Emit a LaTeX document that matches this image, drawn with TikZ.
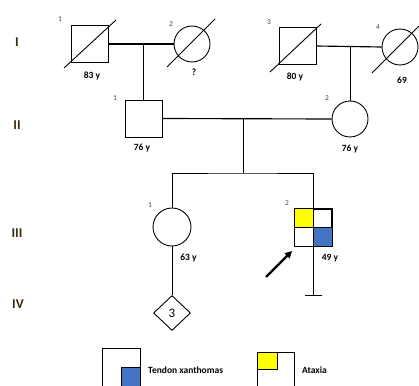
\documentclass[tikz,border=0pt]{standalone}
\usepackage{fontspec}
\setmainfont{Carlito}
\usetikzlibrary{shapes.geometric,arrows.meta}
\definecolor{lgblue}{HTML}{4472C4}
\definecolor{lgyellow}{HTML}{FFFF00}
\definecolor{numgray}{HTML}{444444}
\definecolor{genc}{HTML}{3A2A10}
\begin{document}
\begin{tikzpicture}[x=1pt,y=-1pt,
  male/.style={draw,line width=0.9pt,rectangle,minimum size=37pt,inner sep=0pt},
  female/.style={draw,line width=0.9pt,circle,minimum size=36pt,inner sep=0pt},
  indnum/.style={font=\fontsize{7.5}{8}\selectfont,text=numgray,inner sep=0pt},
  agelab/.style={font=\fontsize{9.5}{10}\selectfont\bfseries,inner sep=0pt},
  genlab/.style={font=\fontsize{13.5}{15}\selectfont\bfseries,text=genc,inner sep=0pt},
  rel/.style={line width=1.15pt},
  line/.style={line width=0.95pt},
  dec/.style={line width=0.9pt},
  legtext/.style={font=\fontsize{9.5}{10}\selectfont\bfseries,inner sep=0pt,anchor=west}]
\clip (0,0) rectangle (419,385);
\fill[white] (0,0) rectangle (419,385);
% generation labels
\node[genlab] (gI) at (17,42) {I};
\node[genlab] (gII) at (17,125) {II};
\node[genlab] (gIII) at (17,233) {III};
\node[genlab] (gIV) at (18,304) {IV};
% generation I
\node[male] (I1) at (89.5,44) {};
\node[female] (I2) at (192,44) {};
\node[male] (I3) at (297.5,46) {};
\node[female] (I4) at (400,47) {};
\coordinate (d1a) at (64,68); \coordinate (d1b) at (116,20);
\coordinate (d2a) at (167,67); \coordinate (d2b) at (215,19);
\coordinate (d3a) at (270,72); \coordinate (d3b) at (321,24);
\coordinate (d4a) at (372,73); \coordinate (d4b) at (424,21);
\draw[dec] (d1a) -- (d1b);
\draw[dec] (d2a) -- (d2b);
\draw[dec] (d3a) -- (d3b);
\draw[dec] (d4a) -- (d4b);
\node[indnum] (n1) at (60,19) {1};
\node[indnum] (n2) at (171,24) {2};
\node[indnum] (n3) at (269,22) {3};
\node[indnum] (n4) at (378,27) {4};
\node[agelab] (a1) at (92,76) {83 y};
\node[agelab] (a2) at (194,72) {?};
\node[agelab] (a3) at (295,77) {80 y};
\node[agelab] (a4) at (402,80) {69};
\draw[rel] (I1.east) -- (I2.west);
\draw[rel] (I3.east) -- (I4.west);
% generation II
\node[male] (II1) at (143.5,118.5) {};
\node[female] (II2) at (350,119) {};
\coordinate (m1) at (143.5,44);
\coordinate (m2) at (350,47);
\draw[line] (m1) -- (II1.north);
\draw[line] (m2) -- (II2.north);
\node[indnum] (n5) at (115,98) {1};
\node[indnum] (n6) at (327,98) {2};
\node[agelab] (a5) at (142,148) {76 y};
\node[agelab] (a6) at (350,149) {76 y};
\draw[rel] (II1.east) -- (II2.west);
% generation III
\coordinate (m3) at (243,118.5);
\coordinate (s) at (243,173);
\draw[line] (m3) -- (s);
\node[female,minimum size=38pt] (III1) at (172,227) {};
\node[male] (III2) at (313,227.5) {};
\fill[lgyellow] (III2.north west) rectangle (III2.center);
\fill[lgblue] (III2.center) rectangle (III2.south east);
\draw[dec] (III2.north west) rectangle (III2.south east);
\draw[line] (III2.west) -- (III2.east);
\draw[line] (III1.north) |- (s) -| (III2.north);
\draw[line] (III2.north) -- (III2.south);
\node[indnum] (n7) at (150,205) {1};
\node[indnum] (n8) at (287,203) {2};
\node[agelab] (a7) at (188.5,258) {63 y};
\node[agelab] (a8) at (330,258) {49 y};
% no offspring bar
\coordinate (t) at (313,295);
\coordinate (tl) at (305,295);
\coordinate (tr) at (322,295);
\draw[line] (III2.south) -- (t);
\draw[line] (tl) -- (tr);
% proband arrow
\coordinate (pa) at (266,277);
\coordinate (pb) at (292,251);
\draw[line width=2.3pt,-{Triangle[length=7pt,width=7pt]}] (pa) -- (pb);
% generation IV
\node[draw,line width=0.9pt,diamond,minimum width=37pt,minimum height=35pt,inner sep=0pt,font=\fontsize{13}{14}\selectfont] (IV1) at (172,313) {3};
\draw[line] (III1.south) -- (IV1.north);
% legend
\coordinate (L1a) at (102,348); \coordinate (L1b) at (140,395);
\coordinate (L1c) at (121,367);
\fill[lgblue] (L1c) rectangle (L1b);
\draw[dec] (L1c) rectangle (L1b);
\draw[dec] (L1a) rectangle (L1b);
\node[legtext] (lt1) at (148,370) {Tendon xanthomas};
\coordinate (L2a) at (257,352); \coordinate (L2b) at (294,395);
\coordinate (L2c) at (277,369);
\fill[lgyellow] (L2a) rectangle (L2c);
\draw[dec] (L2a) rectangle (L2c);
\draw[dec] (L2a) rectangle (L2b);
\node[legtext] (lt2) at (302,370) {Ataxia};
\end{tikzpicture}
\end{document}
